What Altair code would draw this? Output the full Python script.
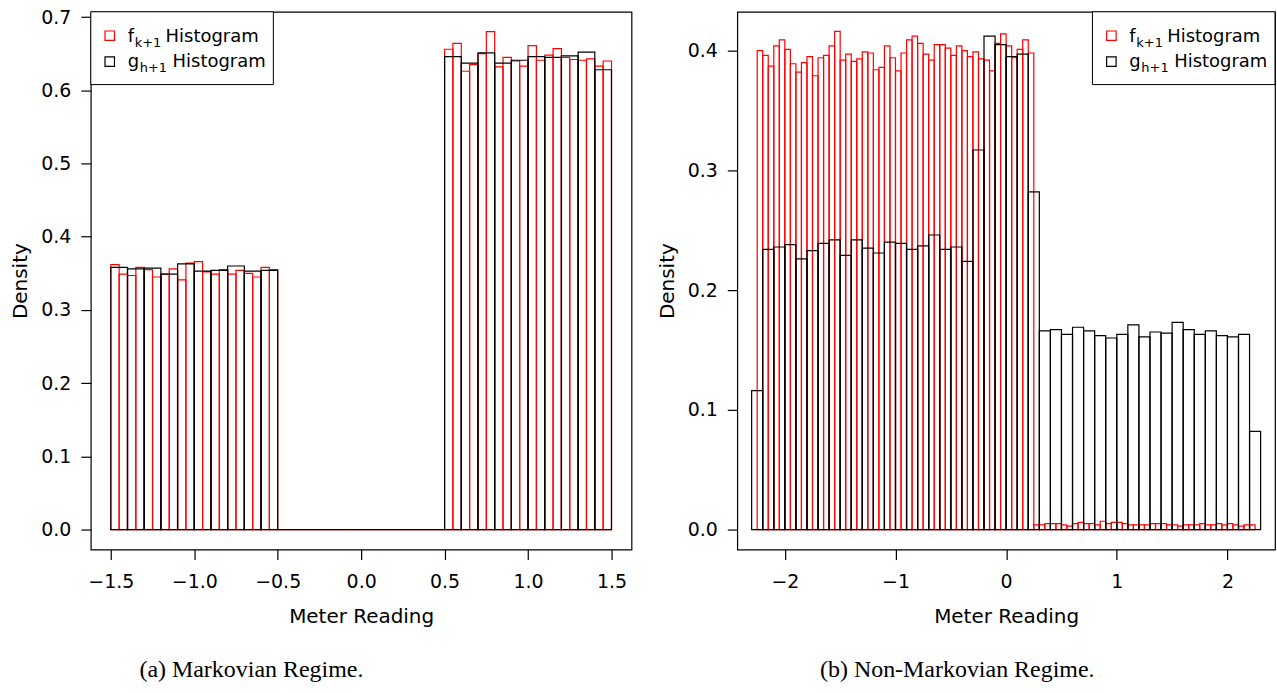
import altair as alt
import numpy as np
import pandas as pd

# ---------------- (a) Markovian regime ----------------
# f_{k+1}: bin width 0.05 on [-1.5, 1.5]; g_{h+1}: bin width 0.1 on [-1.5, 1.5]
a_f_neg = [0.362, 0.349, 0.347, 0.358, 0.355, 0.345, 0.349, 0.356, 0.341, 0.364,
           0.366, 0.352, 0.349, 0.355, 0.349, 0.354, 0.350, 0.345, 0.358, 0.355]
a_f_mid = [0.0] * 20
a_f_pos = [0.656, 0.664, 0.626, 0.635, 0.650, 0.680, 0.632, 0.645, 0.640, 0.633,
           0.661, 0.641, 0.648, 0.657, 0.645, 0.642, 0.641, 0.643, 0.633, 0.640]
a_g_neg = [0.358, 0.356, 0.357, 0.349, 0.363, 0.353, 0.354, 0.360, 0.353, 0.354]
a_g_mid = [0.0] * 10
a_g_pos = [0.646, 0.637, 0.651, 0.637, 0.641, 0.646, 0.645, 0.647, 0.652, 0.628]

# ---------------- (b) Non-Markovian regime ----------------
# f_{k+1}: bin width 0.05 on [-2.25, 2.25]; g_{h+1}: bin width 0.1 on [-2.3, 2.3]
b_f_high = [0.400, 0.396, 0.387, 0.404, 0.409, 0.401, 0.389, 0.382, 0.390, 0.395,
            0.379, 0.394, 0.396, 0.404, 0.416, 0.392, 0.397, 0.391, 0.393, 0.399,
            0.398, 0.384, 0.386, 0.404, 0.394, 0.383, 0.398, 0.409, 0.412, 0.406,
            0.397, 0.392, 0.405, 0.405, 0.402, 0.396, 0.404, 0.400, 0.395, 0.399,
            0.393, 0.392, 0.383, 0.406, 0.414, 0.404, 0.394, 0.401, 0.409, 0.398]
b_f_low = [0.004, 0.004, 0.005, 0.005, 0.005, 0.004, 0.003, 0.005, 0.006, 0.005,
           0.005, 0.004, 0.007, 0.005, 0.006, 0.006, 0.005, 0.004, 0.004, 0.004,
           0.004, 0.005, 0.005, 0.005, 0.004, 0.004, 0.003, 0.004, 0.004, 0.004,
           0.005, 0.004, 0.004, 0.005, 0.004, 0.005, 0.004, 0.003, 0.004, 0.004]
b_g = [0.116, 0.234, 0.236, 0.238, 0.226, 0.233, 0.239, 0.242, 0.229, 0.242,
       0.235, 0.231, 0.240, 0.239, 0.234, 0.237, 0.246, 0.234, 0.236, 0.224,
       0.317, 0.412, 0.405, 0.395, 0.397, 0.282,
       0.166, 0.167, 0.163, 0.169, 0.166, 0.162, 0.160, 0.163, 0.171, 0.161,
       0.165, 0.164, 0.173, 0.167, 0.163, 0.166, 0.162, 0.161, 0.163, 0.082]

SANS = "DejaVu Sans"
SERIF = "Liberation Serif"


def hist_frame(start, width, dens):
    lo = start + width * np.arange(len(dens))
    return pd.DataFrame({"lo": np.round(lo, 4), "hi": np.round(lo + width, 4),
                         "density": dens, "zero": 0.0})


def bars(df, color, xscale, yscale, xaxis, yaxis):
    return alt.Chart(df).mark_bar(
        fill="transparent", stroke=color, strokeWidth=1.2
    ).encode(
        x=alt.X("lo:Q", scale=xscale, axis=xaxis),
        x2="hi:Q",
        y=alt.Y("density:Q", scale=yscale, axis=yaxis),
        y2="zero:Q",
    )


one = pd.DataFrame({"k": [0]})


def txt(s, x, y, size):
    return alt.Chart(one).mark_text(
        text=s, font=SANS, fontSize=size, align="left", baseline="alphabetic", color="black"
    ).encode(x=alt.value(x), y=alt.value(y))


def legend(x0):
    box = alt.Chart(one).mark_rect(fill="white", stroke="black", strokeWidth=1).encode(
        x=alt.value(x0), x2=alt.value(x0 + 183), y=alt.value(0), y2=alt.value(73)
    )
    sq_f = alt.Chart(one).mark_point(shape="square", filled=False, size=90,
                                     color="red", strokeWidth=1.2, opacity=1).encode(
        x=alt.value(x0 + 19), y=alt.value(24))
    sq_g = alt.Chart(one).mark_point(shape="square", filled=False, size=90,
                                     color="black", strokeWidth=1.2, opacity=1).encode(
        x=alt.value(x0 + 19), y=alt.value(50))
    return [box, sq_f, sq_g,
            txt("f", x0 + 37, 30, 18), txt("k+1", x0 + 44, 35, 13), txt("Histogram", x0 + 75, 30, 18),
            txt("g", x0 + 37, 55, 18), txt("h+1", x0 + 49, 60, 13), txt("Histogram", x0 + 82, 55, 18)]


def panel(f_df, g_df, xdom, ydom, xticks, xfmt, yticks, width, height, caption, cap_dx, legend_x):
    xscale = alt.Scale(domain=xdom, nice=False, zero=False)
    yscale = alt.Scale(domain=ydom, nice=False, zero=False)
    xaxis = alt.Axis(values=xticks, format=xfmt, title="Meter Reading")
    yaxis = alt.Axis(values=yticks, format=".1f", title="Density")
    layers = [bars(f_df, "#ff0000", xscale, yscale, xaxis, yaxis),
              bars(g_df, "#000000", xscale, yscale, xaxis, yaxis)]
    return alt.layer(*layers, *legend(legend_x)).properties(
        width=width, height=height,
        title=alt.TitleParams(caption, orient="bottom", anchor="middle", dx=cap_dx,
                              offset=32, font=SERIF, fontSize=24, fontWeight="normal",
                              color="black"),
    )


fa = hist_frame(-1.5, 0.05, a_f_neg + a_f_mid + a_f_pos)
ga = hist_frame(-1.5, 0.1, a_g_neg + a_g_mid + a_g_pos)
fb = hist_frame(-2.25, 0.05, b_f_high + b_f_low)
gb = hist_frame(-2.3, 0.1, b_g)

left = panel(fa, ga, [-1.62, 1.62], [-0.0272, 0.7072],
             [-1.5, -1.0, -0.5, 0.0, 0.5, 1.0, 1.5], ".1f",
             [0.0, 0.1, 0.2, 0.3, 0.4, 0.5, 0.6, 0.7],
             542, 539, "(a) Markovian Regime.", -110, 0)
right = panel(fb, gb, [-2.43, 2.43], [-0.0166, 0.4324],
              [-2, -1, 0, 1, 2], "d",
              [0.0, 0.1, 0.2, 0.3, 0.4],
              539, 539, "(b) Non-Markovian Regime.", -49, 539 - 183)

chart = alt.hconcat(left, right, spacing=24).properties(
    padding={"left": 10, "top": 6, "right": 0, "bottom": 0},
    background="white",
).configure_view(
    stroke="black", strokeWidth=1.2
).configure_axis(
    domain=False, grid=False, ticks=True, tickColor="black", tickSize=10, tickWidth=1.2,
    labelFont=SANS, labelFontSize=19, labelColor="black", labelPadding=10,
    titleFont=SANS, titleFontSize=20, titleFontWeight="normal", titleColor="black",
).configure_axisY(
    labelAngle=0, titlePadding=10
).configure_axisX(
    labelPadding=13, titlePadding=15
)

chart.save("out.html", embed_options={"renderer": "svg", "actions": False})
